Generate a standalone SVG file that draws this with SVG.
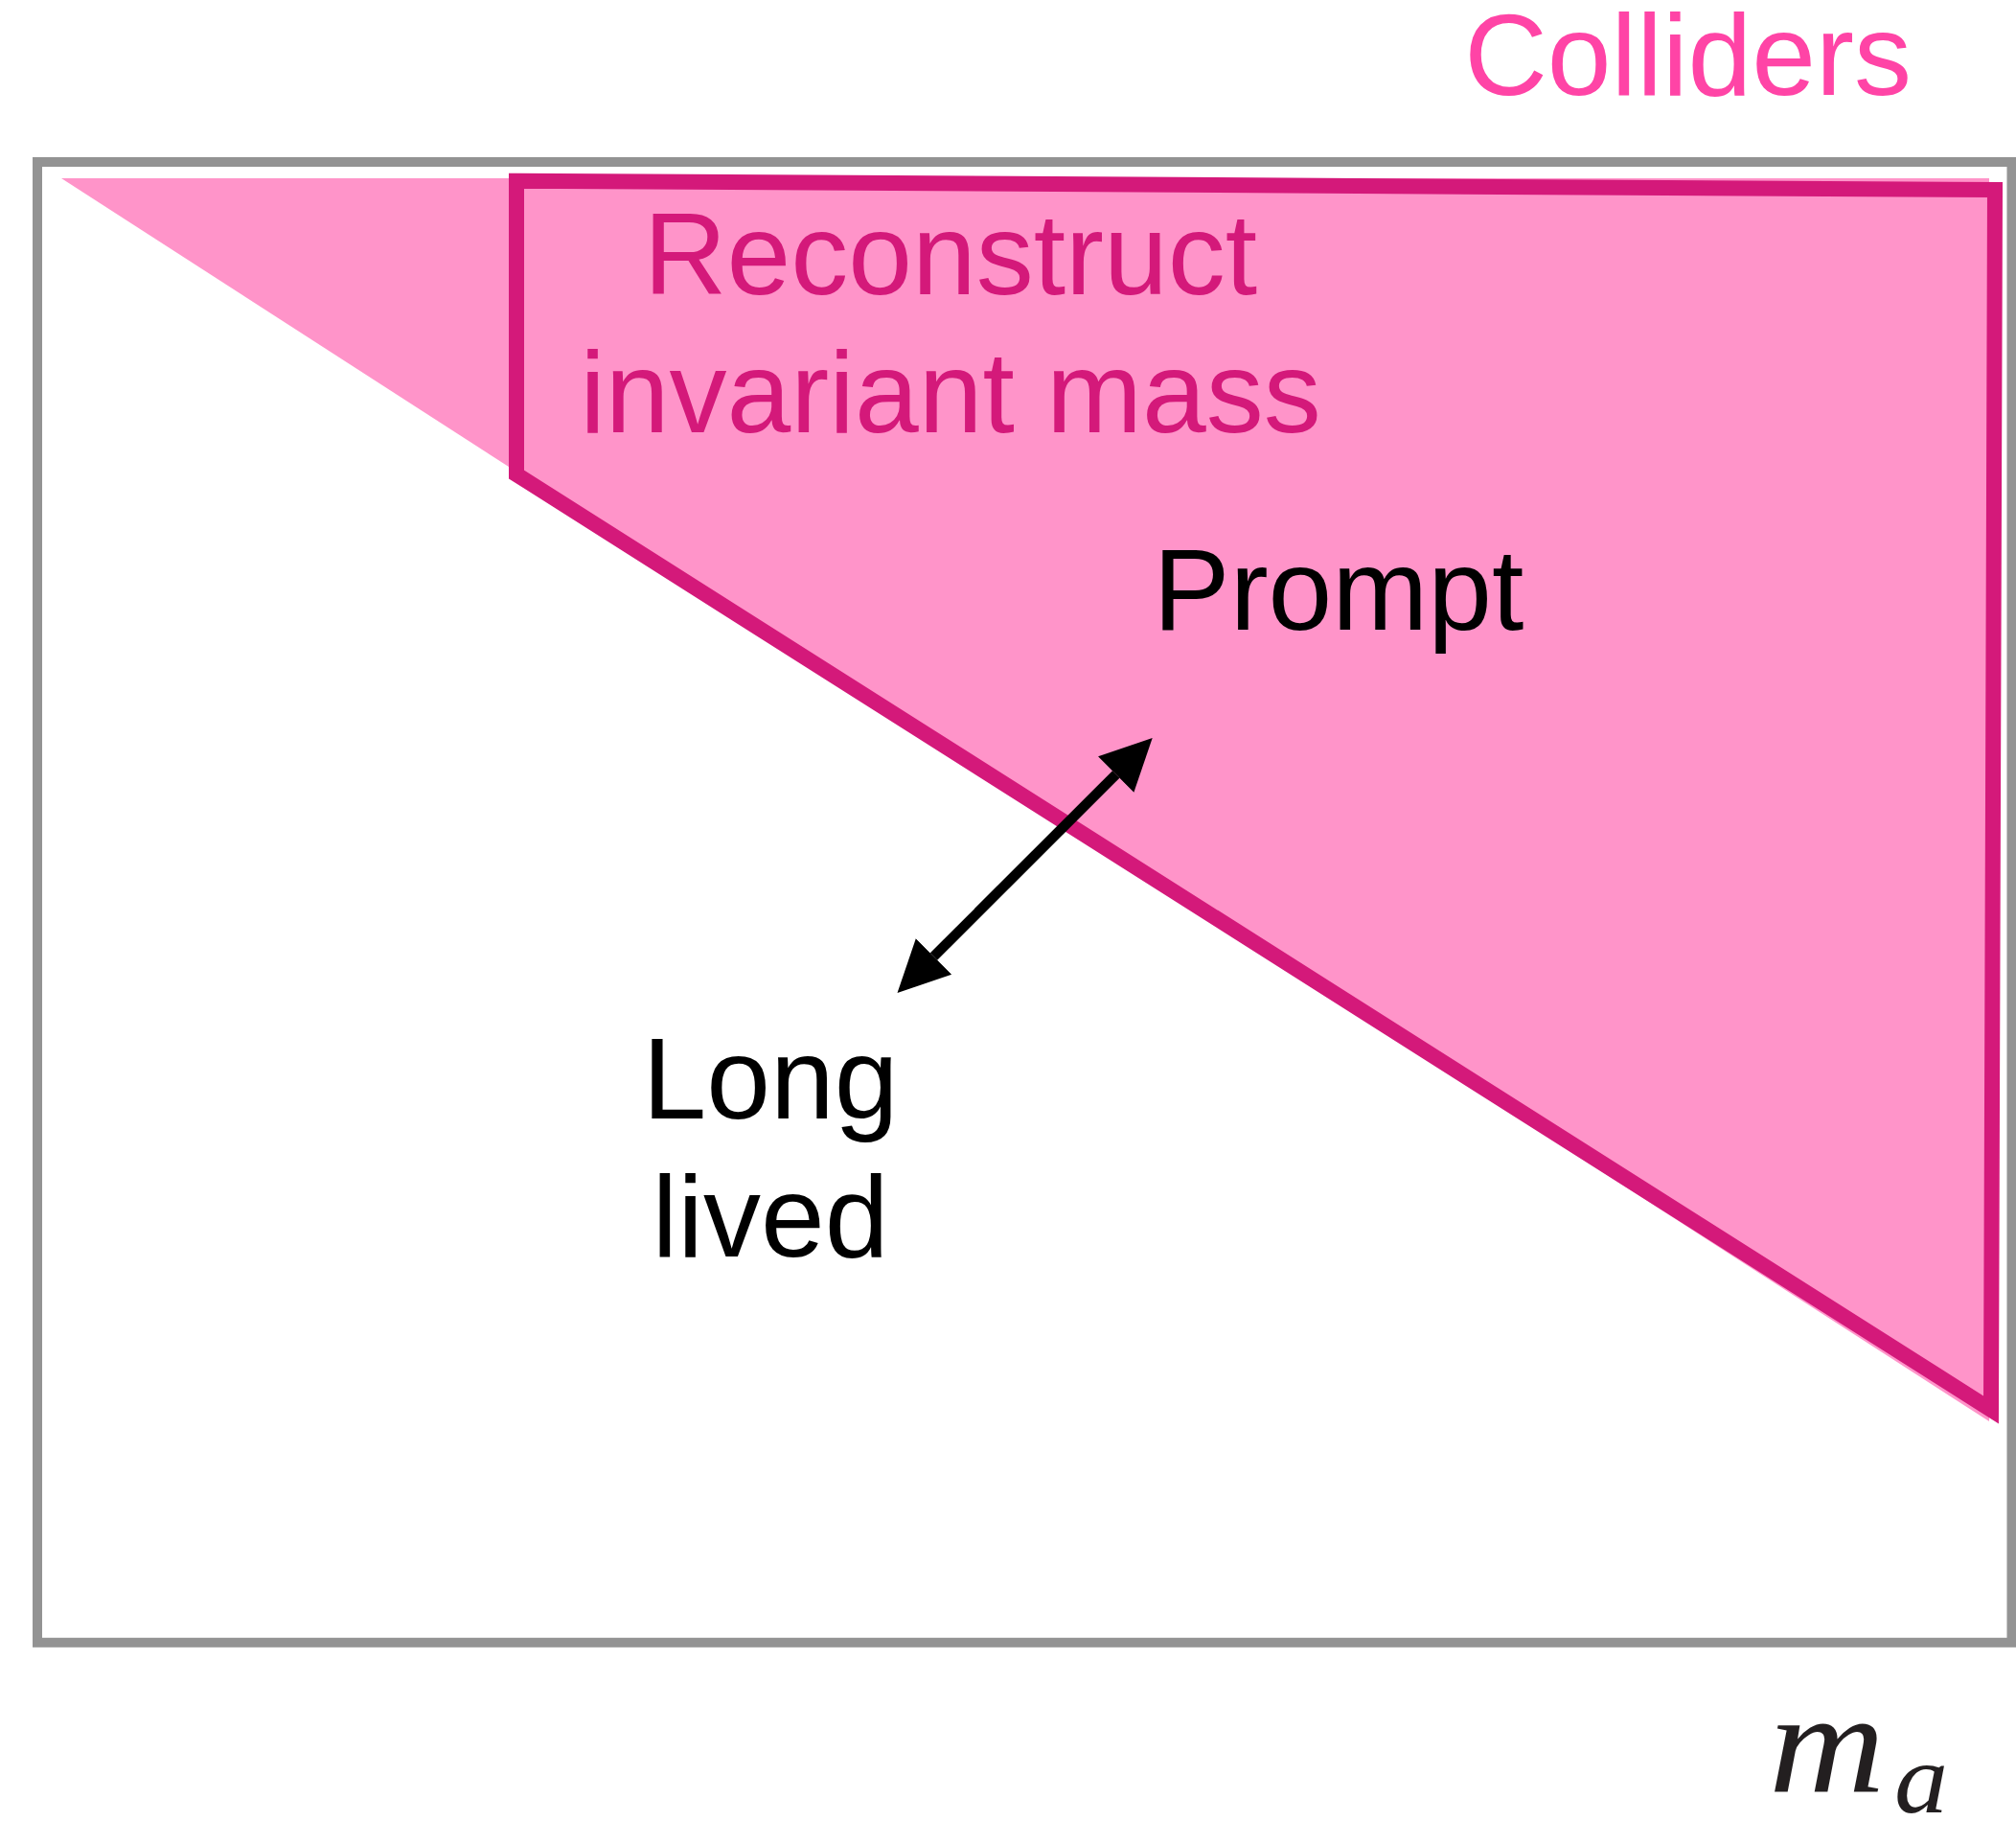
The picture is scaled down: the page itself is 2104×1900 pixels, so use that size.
<svg xmlns="http://www.w3.org/2000/svg" width="2104" height="1900" viewBox="0 0 2104 1900">
  <defs>
    <style>
      .lbl { font-family: "Liberation Sans", Arial, Helvetica, sans-serif; font-size: 120px; }
      .math { font-family: "Liberation Serif", "Times New Roman", serif; font-style: italic; fill: #231f20; }
    </style>
    <marker id="head" markerUnits="userSpaceOnUse" markerWidth="60" markerHeight="60" viewBox="0 -30 60 60" refX="0" refY="0" orient="auto-start-reverse">
      <path d="M0,-26.4 L53.7,0 L0,26.4 Z" fill="#000"/>
    </marker>
  </defs>
  <rect width="2104" height="1900" fill="#ffffff"/>

  <g id="frame">
    <rect x="39" y="169" width="2060.5" height="1544.8" fill="none" stroke="#939393" stroke-width="10"/>
  </g>

  <g id="colliders-region">
    <polygon points="64,186 2076,186 2076,1483" fill="#FF94C9"/>
    <text class="lbl" x="1995" y="99" text-anchor="end" fill="#FF44A6">Colliders</text>
  </g>

  <g id="reconstruct-region">
    <polygon points="539,188.7 2082,198 2078,1471 539,495" fill="none" stroke="#D4197A" stroke-width="16" stroke-linejoin="miter"/>
    <text class="lbl" x="992" y="307" text-anchor="middle" fill="#D4197A">Reconstruct</text>
    <text class="lbl" x="992" y="451" text-anchor="middle" fill="#D4197A">invariant mass</text>
  </g>

  <g id="prompt">
    <text class="lbl" x="1397" y="657" text-anchor="middle" fill="#000">Prompt</text>
  </g>

  <g id="long-lived">
    <text class="lbl" x="804" y="1167" text-anchor="middle" fill="#000">Long</text>
    <text class="lbl" x="804" y="1311" text-anchor="middle" fill="#000">lived</text>
  </g>

  <g id="axis-label">
    <text class="math" transform="translate(1846,1869) scale(1.12,1)" font-size="150">m</text>
    <text class="math" transform="translate(1977,1891) scale(1.08,1)" font-size="104">a</text>
  </g>

  <g id="connectors">
    <line x1="974.5" y1="998" x2="1164.7" y2="808" stroke="#000" stroke-width="10.5" marker-start="url(#head)" marker-end="url(#head)"/>
  </g>
</svg>
